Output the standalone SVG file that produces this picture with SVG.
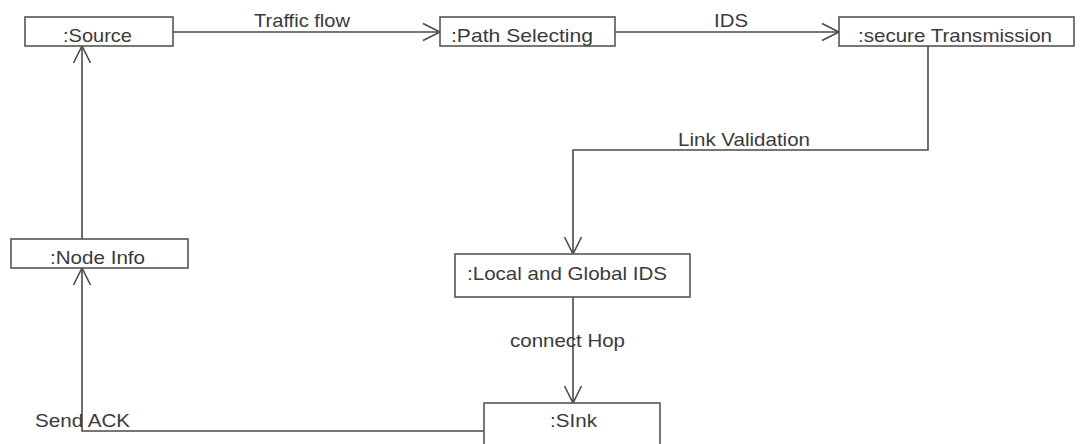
<svg xmlns="http://www.w3.org/2000/svg" width="1080" height="444" viewBox="0 0 1080 444">
  <defs>
    <style>
      .box { fill: #ffffff; stroke: #555555; stroke-width: 1.6; }
      .lbl { font-family: "Liberation Sans", Arial, sans-serif; font-size: 19px; fill: #3a3a3a; }
      .edge { fill: none; stroke: #4a4a4a; stroke-width: 1.6; }
    </style>
    <marker id="open" viewBox="0 0 20 20" refX="18" refY="10" markerWidth="20" markerHeight="20" markerUnits="userSpaceOnUse" orient="auto">
      <path d="M1,1.5 L18,10 L1,18.5" fill="none" stroke="#4a4a4a" stroke-width="1.6"/>
    </marker>
  </defs>
  <rect width="1080" height="444" fill="#ffffff"/>

  <!-- connectors -->
  <g id="connectors">
    <path class="edge" d="M173,32 H440" marker-end="url(#open)"/>
    <path class="edge" d="M615,32 H839" marker-end="url(#open)"/>
    <path class="edge" d="M928,46 V150 H573 V254" marker-end="url(#open)"/>
    <path class="edge" d="M573,297 V403" marker-end="url(#open)"/>
    <path class="edge" d="M484,431 H82 V268" marker-end="url(#open)"/>
    <path class="edge" d="M82,239 V46" marker-end="url(#open)"/>
    <text class="lbl" x="254" y="27" textLength="96" lengthAdjust="spacingAndGlyphs">Traffic flow</text>
    <text class="lbl" x="714" y="27" textLength="34" lengthAdjust="spacingAndGlyphs">IDS</text>
    <text class="lbl" x="678" y="146" textLength="132" lengthAdjust="spacingAndGlyphs">Link Validation</text>
    <text class="lbl" x="510" y="347" textLength="115" lengthAdjust="spacingAndGlyphs">connect Hop</text>
    <text class="lbl" x="35" y="427" textLength="95" lengthAdjust="spacingAndGlyphs">Send ACK</text>
  </g>

  <g id="source">
    <rect class="box" x="25" y="17" width="148" height="29"/>
    <text class="lbl" x="63" y="42" textLength="69" lengthAdjust="spacingAndGlyphs">:Source</text>
  </g>
  <g id="path-selecting">
    <rect class="box" x="440" y="17" width="175" height="29"/>
    <text class="lbl" x="451" y="42" textLength="142" lengthAdjust="spacingAndGlyphs">:Path Selecting</text>
  </g>
  <g id="secure-transmission">
    <rect class="box" x="839" y="17" width="235" height="29"/>
    <text class="lbl" x="858" y="42" textLength="194" lengthAdjust="spacingAndGlyphs">:secure Transmission</text>
  </g>
  <g id="node-info">
    <rect class="box" x="11" y="239" width="177" height="29"/>
    <text class="lbl" x="50" y="264" textLength="95" lengthAdjust="spacingAndGlyphs">:Node Info</text>
  </g>
  <g id="local-global-ids">
    <rect class="box" x="455" y="254" width="235" height="43"/>
    <text class="lbl" x="467" y="280" textLength="200" lengthAdjust="spacingAndGlyphs">:Local and Global IDS</text>
  </g>
  <g id="sink">
    <rect class="box" x="484" y="403" width="176" height="50"/>
    <text class="lbl" x="550" y="427" textLength="47" lengthAdjust="spacingAndGlyphs">:SInk</text>
  </g>
</svg>
